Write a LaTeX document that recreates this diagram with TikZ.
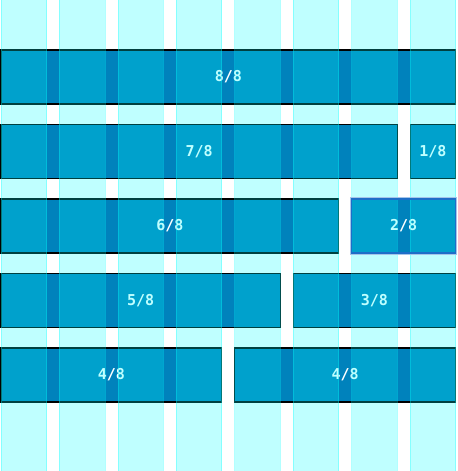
\documentclass[tikz,border=0pt]{standalone}
\usepackage{fontspec}
\newfontfamily\barfont{DejaVu Sans Mono Bold}
\usetikzlibrary{calc}
\definecolor{barfill}{RGB}{0,130,188}
\definecolor{colcyan}{RGB}{0,255,255}
\definecolor{hiblue}{RGB}{30,110,200}
\newcommand\gridpitch{58.45}
\newcommand\gridcw{45.5}
\newcommand\gridbar[6][]{% opts, name, startcol, ncols, ytop, label
  \pgfmathsetmacro\gbxa{1+#3*\gridpitch}%
  \pgfmathsetmacro\gbxb{1+(#3+#4-1)*\gridpitch+\gridcw}%
  \pgfmathsetmacro\gbw{\gbxb-\gbxa}%
  \node[bar, minimum width=\gbw bp, anchor=north west, #1] (#2) at (\gbxa,#5) {#6};}
\begin{document}
\begin{tikzpicture}[x=1bp,y=-1bp,
  bar/.style={draw=black, line width=1.2bp, fill=barfill, text=white,
    font=\fontsize{15bp}{17bp}\barfont,
    inner sep=0pt, outer sep=0pt, minimum height=54bp},
  gridcol/.style={fill=colcyan, fill opacity=0.25, draw=colcyan, draw opacity=0.3, line width=0.8bp}]
\useasboundingbox (0,0) rectangle (458,471);
\fill[white] (0,0) rectangle (458,471);
% row 1
\gridbar{b88}{0}{8}{50}{8/8}
% row 2
\gridbar{b78}{0}{7}{124.5}{7/8}
\gridbar{b18}{7}{1}{124.5}{1/8}
% row 3
\gridbar{b68}{0}{6}{199}{6/8}
\gridbar{b28}{6}{2}{199}{2/8}
% row 4
\gridbar{b58}{0}{5}{273.5}{5/8}
\gridbar{b38}{5}{3}{273.5}{3/8}
% row 5
\gridbar{b48a}{0}{4}{348}{4/8}
\gridbar{b48b}{4}{4}{348}{4/8}
% grid columns overlay
\foreach \i in {0,...,7}
  \draw[gridcol] ({1+\i*\gridpitch},-2) rectangle ++(\gridcw,475);
% focus ring on 2/8
\draw[hiblue, line width=1.2bp] (b28.north west) rectangle (b28.south east);
\draw[hiblue!40, line width=1bp] ($(b28.north west)+(-1.2,-1.2)$) rectangle ($(b28.south east)+(1.2,1.2)$);
\end{tikzpicture}
\end{document}
